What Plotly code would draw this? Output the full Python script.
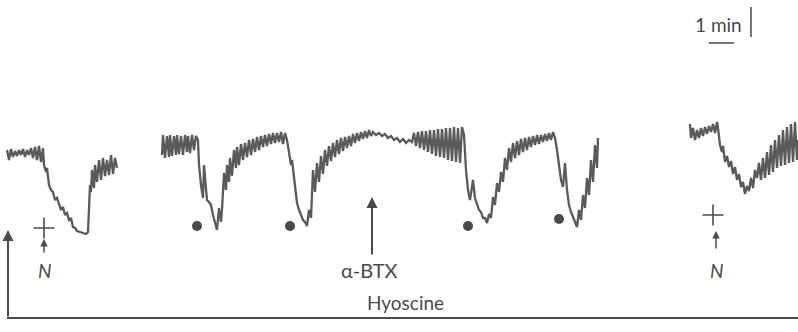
import plotly.graph_objects as go

# ---- trace data (time in px-scaled units, tension in px-scaled units, downward = larger) ----
seg1_x = [7, 9, 11, 13, 15, 17, 19, 21, 23, 25, 27, 29, 31, 33, 35, 37, 39, 41, 43,
          44, 46, 47, 49, 51, 53, 55, 57, 59, 61, 63, 65, 67, 69, 71, 73, 75, 77, 80, 83, 86, 88,
          89, 90, 91, 92, 94, 95, 97, 99, 101, 103, 105, 107, 109, 111, 113, 115, 117]
seg1_y = [150, 160, 149, 157, 151, 156, 150, 155, 149, 157, 150, 155, 148, 158, 147, 160, 146, 162, 148,
          165, 172, 168, 185, 190, 192, 200, 198, 205, 210, 207, 215, 213, 220, 218, 227, 228, 231, 232, 233, 234, 232,
          200, 185, 192, 170, 188, 165, 182, 160, 180, 158, 176, 160, 175, 155, 174, 158, 168]

seg2_x = [162, 163, 165, 167, 169, 170, 172, 174, 176, 177, 179, 181, 183, 185, 187, 188, 190, 192, 194, 196, 198,
          199, 201, 203, 204, 206, 207, 209, 211, 213, 215, 217, 219, 221, 222, 224, 226, 227, 229, 230, 232, 234, 236,
          237, 239, 241, 243, 245, 247, 249, 251, 253, 255, 257, 259, 261, 263, 265, 267, 269, 271, 273, 275, 277, 279,
          281, 283, 285, 287,
          289, 291, 292, 294, 296, 297, 299, 301, 303, 305, 307, 309, 311, 313, 315, 317, 319, 321, 323, 325, 327, 329,
          331, 333, 335, 337, 339, 341, 343, 345, 347, 349, 351, 353, 355, 357, 359, 361, 363, 365, 367, 369, 371,
          373, 376, 379, 382, 385, 388, 391, 394, 397, 400, 403, 406, 409, 412,
          414, 416, 418, 420, 422, 424, 426, 428, 430, 432, 434, 436, 438, 440, 442, 444, 446, 448, 450, 452, 454, 456,
          458, 460, 462, 464,
          466, 468, 470, 473, 475, 477, 479, 481, 483, 485, 487, 489, 491, 493, 495, 497, 499, 501, 503, 505, 507, 509,
          511, 513, 515, 517, 519, 521, 523, 525, 527, 529, 531, 533, 535, 537, 539, 541, 543, 545, 547, 549, 551, 553, 555,
          557, 559, 561, 563, 565, 567, 569, 571, 573, 575, 577, 579, 581, 583, 585, 587, 589, 591, 593, 595, 597, 598]
seg2_y = [155, 135, 158, 136, 157, 135, 156, 136, 155, 135, 154, 136, 155, 135, 152, 136, 153, 135, 150, 136, 140,
          165, 185, 198, 165, 185, 200, 202, 205, 215, 222, 230, 208, 222, 210, 173, 190, 165, 182, 158, 176, 150, 168,
          147, 165, 144, 160, 143, 157, 140, 155, 139, 152, 137, 150, 136, 147, 135, 146, 134, 144, 133, 143, 133, 142,
          132, 144, 133, 140,
          155, 165, 160, 178, 190, 203, 210, 215, 220, 222, 226, 210, 218, 170, 192, 163, 182, 156, 174, 150, 166, 146,
          161, 143, 157, 140, 154, 138, 151, 137, 148, 136, 146, 134, 143, 133, 141, 132, 139, 131, 138, 130, 136,
          132, 135, 133, 136, 134, 138, 136, 140, 138, 142, 139, 143, 140, 142,
          133, 146, 132, 148, 131, 150, 131, 152, 130, 154, 130, 156, 129, 157, 129, 158, 128, 160, 128, 161, 127, 162,
          128, 163, 127, 135,
          170, 190, 200, 180, 198, 203, 210, 212, 218, 218, 223, 214, 218, 197, 205, 183, 192, 172, 182, 158, 170, 148,
          162, 143, 158, 141, 155, 139, 152, 138, 150, 137, 147, 136, 145, 135, 144, 135, 142, 134, 141, 133, 140, 132, 138,
          150, 165, 180, 187, 163, 190, 205, 212, 217, 222, 227, 210, 220, 195, 208, 178, 195, 160, 182, 145, 168, 138]

seg3_x = [690, 691, 693, 695, 697, 699, 701, 703, 705, 707, 709, 711, 713, 715, 717, 718,
          720, 722, 723, 725, 727, 729, 731, 733, 735, 737, 739, 741, 743, 745, 747, 749, 751, 753, 755,
          757, 759, 761, 763, 765, 767, 769, 771, 773, 775, 777, 779, 781, 783, 785, 787, 789, 791, 793, 795, 797, 798]
seg3_y = [124, 138, 128, 140, 130, 138, 128, 136, 127, 134, 126, 132, 124, 133, 122, 128,
          145, 152, 146, 162, 156, 167, 161, 174, 167, 180, 174, 187, 182, 194, 186, 191, 178, 188, 170,
          178, 163, 180, 158, 178, 152, 175, 145, 172, 140, 168, 135, 166, 130, 165, 127, 163, 124, 162, 122, 160, 140]

# ---- event markers ----
dot_x = [197, 290, 468, 559]
dot_y = [226, 226, 226, 219]
plus_x = [44, 713]
plus_y = [228, 215]

TRACE = "#5a5a5a"
INK = "#4a4a4a"
FONT = "Lato"

fig = go.Figure()
for sx, sy in [(seg1_x, seg1_y), (seg2_x, seg2_y), (seg3_x, seg3_y)]:
    fig.add_trace(go.Scatter(x=sx, y=sy, mode="lines",
                             line=dict(color=TRACE, width=2.3), hoverinfo="skip"))

fig.add_trace(go.Scatter(x=dot_x, y=dot_y, mode="markers",
                         marker=dict(size=10, color=INK)))
fig.add_trace(go.Scatter(x=plus_x, y=plus_y, mode="markers",
                         marker=dict(symbol="cross-thin", size=15,
                                     line=dict(width=1.6, color=INK))))

# Arrows
arrows = [
    dict(x=44, y=239, ax=44, ay=254, w=1.5, s=1.0),     # small N arrow
    dict(x=716, y=231, ax=716, ay=250, w=1.5, s=1.0),   # small N arrow
    dict(x=372, y=197, ax=372, ay=256, w=2, s=1.1),     # alpha-BTX
    dict(x=8, y=230, ax=8, ay=318, w=2, s=1.1),         # hyoscine
]
for a in arrows:
    fig.add_annotation(x=a["x"], y=a["y"], ax=a["ax"], ay=a["ay"],
                       xref="x", yref="y", axref="x", ayref="y",
                       showarrow=True, arrowhead=2, arrowsize=a["s"],
                       arrowwidth=a["w"], arrowcolor=INK, text="")

# Hyoscine baseline
fig.add_shape(type="line", x0=7, x1=798, y0=318, y1=318,
              line=dict(color=INK, width=2))

# Text labels
fig.add_annotation(x=45, y=270, text="<i>N</i>", showarrow=False,
                   font=dict(family=FONT, size=19, color=INK))
fig.add_annotation(x=717, y=270, text="<i>N</i>", showarrow=False,
                   font=dict(family=FONT, size=19, color=INK))
fig.add_annotation(x=369, y=270, text="α-BTX", showarrow=False,
                   font=dict(family=FONT, size=20, color=INK))
fig.add_annotation(x=405, y=302, text="Hyoscine", showarrow=False,
                   font=dict(family=FONT, size=19, color=INK))
fig.add_annotation(x=718, y=24, text="1 min", showarrow=False,
                   font=dict(family=FONT, size=19, color=INK))

# Scale bars
fig.add_shape(type="line", x0=709, x1=734, y0=43, y1=43,
              line=dict(color=INK, width=1.5))
fig.add_shape(type="line", x0=751, x1=751, y0=7, y1=37,
              line=dict(color=INK, width=1.5))

fig.update_layout(
    width=798, height=332,
    margin=dict(l=0, r=0, t=0, b=0),
    paper_bgcolor="white", plot_bgcolor="white",
    showlegend=False,
    xaxis=dict(range=[0, 798], visible=False, fixedrange=True),
    yaxis=dict(range=[332, 0], visible=False, fixedrange=True),
)

fig.write_html("out.html", config={"displayModeBar": False},
               post_script="document.body.style.margin='0';document.body.style.overflow='hidden';")
